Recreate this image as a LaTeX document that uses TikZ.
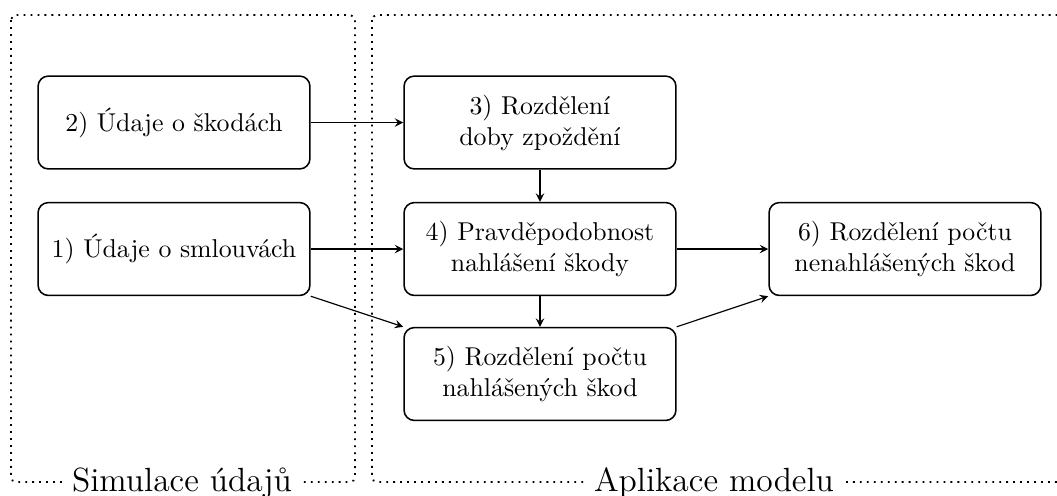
\documentclass[tikz,border=0pt]{standalone}
\usetikzlibrary{arrows}
\begin{document}
\begin{tikzpicture}[x=0.3876pt,y=-0.3876pt,
  box/.style={draw, rounded corners=4pt, line width=0.6pt, minimum width=105.4pt, minimum height=36pt, align=center, inner sep=0pt},
  grp/.style={draw, dotted, line width=0.7pt, rounded corners=2pt},
  arr/.style={-stealth, line width=0.45pt},
  lbl/.style={fill=white, inner sep=3pt, anchor=base, font=\fontsize{13}{16}\selectfont}]
\useasboundingbox (0,0) rectangle (1057,495);
\draw[grp] (11,15) rectangle (355,482);
\draw[grp] (372,15) rectangle (1062,482);
\node[box] (b2) at (174,122.5) {2) Údaje o škodách};
\node[box] (b1) at (174,249) {1) Údaje o smlouvách};
\node[box] (b3) at (540,122.5) {3) Rozdělení\\doby zpoždění};
\node[box] (b4) at (540,249) {4) Pravděpodobnost\\nahlášení škody};
\node[box] (b5) at (540,374) {5) Rozdělení počtu\\nahlášených škod};
\node[box] (b6) at (905,249) {6) Rozdělení počtu\\nenahlášených škod};
\node[lbl] (l1) at (182,491) {Simulace údajů};
\node[lbl] (l2) at (714,491) {Aplikace modelu};
\draw[arr] (b2) -- (b3);
\draw[arr] (b1) -- (b4);
\draw[arr] (b3) -- (b4);
\draw[arr] (b4) -- (b5);
\draw[arr] (b4) -- (b6);
\draw[arr] (b1.south east) -- (b5.north west);
\draw[arr] (b5.north east) -- (b6.south west);
\end{tikzpicture}
\end{document}
